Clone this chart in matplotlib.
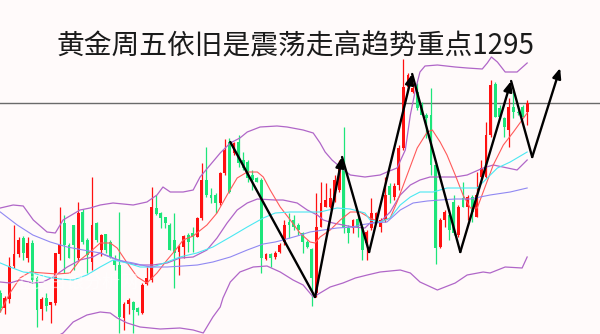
import matplotlib.pyplot as plt
import numpy as np

plt.rcParams['font.family'] = ['Noto Sans CJK SC', 'DejaVu Sans']

title = "黄金周五依旧是震荡走高趋势重点1295"

# candle data (chart units, bottom of picture = 0)
opens = [41, 26, 35, 68, 80, 96, 76, 91, 56, 25, 36, 29, 31, 80, 111, 89, 109, 76, 122, 94,
         72, 111, 84, 100, 92, 74, 69, 16, 30, 32, 26, 21, 50, 54, 126, 121, 117, 109, 94, 82,
         87, 99, 101, 97, 116, 154, 139, 139, 131, 161, 192, 181, 192, 174, 172, 159, 156, 154, 75, 80,
         77, 82, 92, 112, 114, 109, 101, 92, 85, 41, 107, 127, 127, 134, 144, 169, 106, 106, 115, 107,
         91, 106, 113, 107, 114, 148, 137, 149, 186, 247, 242, 242, 229, 219, 219, 169, 87, 114, 119, 132,
         99, 136, 127, 137, 117, 157, 157, 199, 250, 226, 216, 204, 227, 222, 227, 222]
closes = [26, 36, 68, 80, 94, 81, 91, 54, 24, 35, 28, 32, 81, 89, 89, 76, 89, 121, 92, 79,
          109, 94, 99, 84, 77, 69, 17, 30, 34, 24, 22, 49, 56, 127, 120, 116, 111, 84, 81, 88,
          98, 92, 97, 116, 154, 139, 136, 131, 161, 184, 142, 191, 171, 166, 156, 154, 152, 76, 80, 76,
          81, 89, 109, 109, 107, 104, 92, 87, 56, 107, 131, 134, 136, 154, 171, 106, 101, 114, 107, 84,
          102, 121, 121, 114, 139, 139, 148, 186, 247, 259, 246, 226, 219, 216, 169, 86, 114, 122, 104, 101,
          127, 127, 137, 122, 139, 166, 199, 249, 217, 217, 207, 227, 222, 221, 217, 231]
highs = [44, 38, 77, 109, 97, 98, 97, 94, 58, 37, 41, 32, 81, 127, 119, 91, 109, 132, 125, 96,
         157, 112, 100, 100, 94, 79, 122, 32, 36, 33, 27, 51, 67, 147, 139, 122, 117, 111, 121, 89,
         99, 101, 107, 117, 171, 187, 146, 141, 162, 195, 196, 192, 199, 182, 174, 164, 157, 156, 81, 81,
         83, 91, 114, 121, 119, 111, 102, 94, 86, 141, 152, 151, 146, 159, 174, 207, 109, 115, 117, 109,
         104, 136, 122, 116, 157, 151, 151, 189, 275, 261, 251, 251, 232, 221, 246, 171, 116, 124, 121, 139,
         129, 152, 139, 139, 162, 174, 212, 254, 252, 229, 217, 236, 246, 224, 229, 234]
lows = [22, 20, 31, 66, 77, 74, 72, 51, 7, 14, 23, 11, 29, 74, 61, 76, 64, 74, 90, 61,
        64, 92, 78, 81, 76, 64, 1, 4, 20, 1, 19, 20, 49, 52, 119, 106, 106, 84, 46, 59,
        76, 82, 82, 97, 114, 137, 131, 121, 129, 159, 141, 179, 167, 164, 152, 144, 152, 61, 74, 67,
        75, 81, 89, 96, 104, 99, 81, 86, 28, 37, 107, 127, 126, 132, 142, 101, 91, 101, 97, 74,
        74, 104, 111, 102, 112, 131, 134, 144, 184, 244, 241, 224, 219, 196, 159, 70, 86, 107, 94, 99,
        97, 127, 114, 112, 117, 156, 156, 197, 217, 216, 197, 187, 216, 219, 217, 209]

# indicator lines, read at sample positions (candle index, value)
upper_x = [0, 2.8, 5.0, 7.2, 10.2, 12.0, 13.7, 17.4, 19.6, 21.8, 24.6, 29.0, 32.0, 34.2, 35.5, 37.1,
           39.9, 42.1, 43.6, 45.8, 48.0, 50.2, 52.3, 53.9, 56.7, 60.4, 62.6, 66.1, 68.3, 69.8, 70.9,
           72.4, 74.2, 76.4, 79.6, 82.9, 84.4, 86.6, 88.4, 89.5, 90.6, 91.6, 92.7, 95.4, 99.3, 101.9,
           105.2, 106.3, 107.2, 108.5, 110.2, 112.8, 115.0]
upper_y = [126, 129, 128, 114, 102, 101, 114, 124, 126, 129, 131, 129, 132, 139, 147, 142,
           142, 144, 157, 169, 181, 191, 196, 202, 207, 208, 207, 204, 201, 191, 182,
           174, 167, 159, 157, 159, 162, 166, 184, 219, 244, 262, 268, 269, 267, 266,
           265, 271, 277, 272, 262, 262, 271]
mid_x = [0, 2.1, 4.3, 7.1, 9.3, 11.5, 14.6, 17.4, 20.2, 21.8, 24.6, 27.7, 30.5, 33.3, 36.4, 39.2,
         42.1, 45.1, 47.3, 49.5, 51.7, 53.9, 56.1, 60.0, 61.7, 64.8, 67.0, 69.2, 70.5, 72.6, 74.8,
         77.0, 79.6, 80.7, 82.9, 85.1, 87.3, 89.5, 91.6, 93.8, 97.1, 99.3, 101.9, 105.4, 107.6,
         112.8, 115.0]
mid_y = [52, 51, 54, 51, 52, 57, 67, 74, 77, 81, 76, 71, 69, 69, 71, 76,
         77, 84, 96, 111, 124, 131, 135, 134, 134, 131, 124, 119, 114, 111, 109,
         107, 106, 111, 112, 122, 139, 149, 154, 157, 157, 157, 159, 166, 169, 164, 174]
lower_x = [0, 6.5, 10.9, 13.7, 15.9, 18.9, 21.8, 24.0, 25.5, 27.7, 30.5, 34.9, 39.2, 42.1, 44.3,
           46.4, 48.0, 48.6, 50.2, 52.3, 55.2, 58.2, 61.1, 63.9, 66.1, 68.3, 69.8, 72.0, 74.8, 77.5,
           80.1, 82.9, 87.3, 89.5, 91.6, 95.4, 99.3, 101.9, 105.4, 106.9, 110.2, 113.9, 115.0]
lower_y = [-11, -11, -6, 1, 12, 19, 22, 21, 16, 11, 7, 5, 6, 4, 1,
           17, 27, 36, 52, 62, 67, 68, 62, 54, 49, 37, 41, 47, 51, 56,
           59, 62, 64, 61, 52, 44, 51, 59, 62, 61, 67, 66, 77]
ma_red_x = [0, 2.1, 4.3, 6.5, 9.3, 12.4, 15.2, 17.4, 19.6, 21.8, 24.0, 25.5, 27.7, 29.9, 32.0, 34.2,
            36.4, 38.6, 39.9, 42.1, 45.1, 47.3, 49.5, 51.7, 53.9, 56.1, 57.4, 58.9, 61.1, 63.3, 65.4,
            67.6, 68.7, 69.8, 72.0, 74.2, 76.4, 78.5, 80.7, 82.9, 85.1, 86.6, 88.8, 91.0, 93.2, 94.3,
            96.0, 97.5, 99.3, 101.0, 102.6, 104.1, 105.4, 107.6, 109.8, 112.0, 115.0]
ma_red_y = [22, 41, 56, 62, 61, 60, 61, 74, 82, 91, 91, 86, 71, 57, 51, 61,
            74, 86, 94, 98, 109, 121, 139, 156, 162, 162, 157, 144, 127, 114, 101,
            92, 91, 97, 104, 114, 122, 122, 116, 112, 116, 132, 159, 186, 202, 204,
            192, 179, 159, 139, 126, 126, 142, 169, 189, 202, 221]
ma_cyan_x = [0, 2.1, 5.0, 7.1, 10.2, 13.0, 15.9, 18.9, 21.8, 24.6, 27.7, 30.5, 33.3, 36.4, 39.2,
             42.9, 46.4, 50.2, 53.9, 57.4, 60.0, 63.3, 66.1, 69.8, 73.5, 76.4, 79.6, 80.7, 82.9,
             85.1, 87.3, 89.5, 91.6, 94.5, 97.5, 102.6, 104.1, 106.3, 108.5, 111.3, 115.0]
ma_cyan_y = [71, 67, 62, 61, 57, 55, 54, 59, 67, 74, 71, 67, 67, 72, 77,
             81, 87, 97, 107, 116, 121, 122, 122, 122, 126, 125, 121, 114, 112,
             116, 129, 137, 142, 142, 146, 146, 146, 156, 166, 172, 182]
ma_blue_x = [0, 3.7, 7.1, 10.9, 14.6, 18.1, 21.8, 25.5, 29.0, 32.7, 36.4, 39.9, 43.0, 46.4, 50.2,
             53.9, 57.4, 60.0, 61.7, 64.8, 67.6, 70.5, 73.5, 77.0, 78.5, 81.4, 84.4, 87.3, 90.1,
             93.2, 96.0, 99.3, 102.6, 106.9, 111.3, 115.0]
ma_blue_y = [122, 109, 99, 92, 87, 84, 81, 74, 71, 67, 67, 68, 69, 72, 77,
             84, 90, 92, 94, 98, 102, 104, 106, 107, 109, 111, 112, 124, 131,
             133, 134, 135, 135, 139, 142, 146]

level = 231  # the 1295 line
zigzag_x = [50.2, 68.7, 74.6, 80.5, 89.9, 100.4, 111.5, 116.1, 122.2]
zigzag_y = [192, 37, 177, 82, 260, 82, 253, 177, 266]

fig = plt.figure(figsize=(6, 3.34), dpi=100, facecolor='#fffafa')
ax = fig.add_axes([0, 0, 1, 1])
ax.set_xlim(-0.07, 130.9)
ax.set_ylim(0, 334)
ax.axis('off')

o = np.array(opens)
c = np.array(closes)
x = np.arange(len(o))
up = c >= o
colors = np.where(up, '#ff1010', '#1de57a')

ax.vlines(x, lows, highs, colors=colors, lw=0.9, zorder=2)
ax.bar(x, np.maximum(np.abs(c - o), 1.2), bottom=np.minimum(o, c), width=0.62,
       color=colors, linewidth=0, zorder=3)

band = '#b066c8'
ax.plot(upper_x, upper_y, color=band, lw=0.9, zorder=4)
ax.plot(mid_x, mid_y, color=band, lw=0.9, zorder=4)
ax.plot(lower_x, lower_y, color=band, lw=0.9, zorder=4)
ax.plot(ma_red_x, ma_red_y, color='#ff5a5a', lw=0.8, zorder=4)
ax.plot(ma_cyan_x, ma_cyan_y, color='#4ae8f2', lw=0.8, zorder=4)
ax.plot(ma_blue_x, ma_blue_y, color='#9088f2', lw=0.8, zorder=4)

ax.axhline(level, color='#6a6a6a', lw=1, zorder=1)

# zigzag: down legs plain, up legs with arrow heads
for i in range(len(zigzag_x) - 1):
    x0, y0 = zigzag_x[i], zigzag_y[i]
    x1, y1 = zigzag_x[i + 1], zigzag_y[i + 1]
    if y1 > y0:
        ax.annotate('', xy=(x1, y1), xytext=(x0, y0),
                    arrowprops=dict(arrowstyle='-|>,head_length=0.6,head_width=0.25',
                                    color='black', lw=1.7, shrinkA=0, shrinkB=0,
                                    mutation_scale=10), zorder=6)
    else:
        ax.plot([x0, x1], [y0, y1], color='black', lw=1.7, zorder=6,
                solid_capstyle='round')

fig.text(0.02, 0.135, "金投白银分析网", color='white', alpha=0.55, fontsize=13)

fig.text(0.493, 1 - 46 / 334, title, ha='center', va='center', fontsize=20,
         fontweight='light', color='#1a1a1a')

fig.savefig('out.png', dpi=100, facecolor=fig.get_facecolor())
